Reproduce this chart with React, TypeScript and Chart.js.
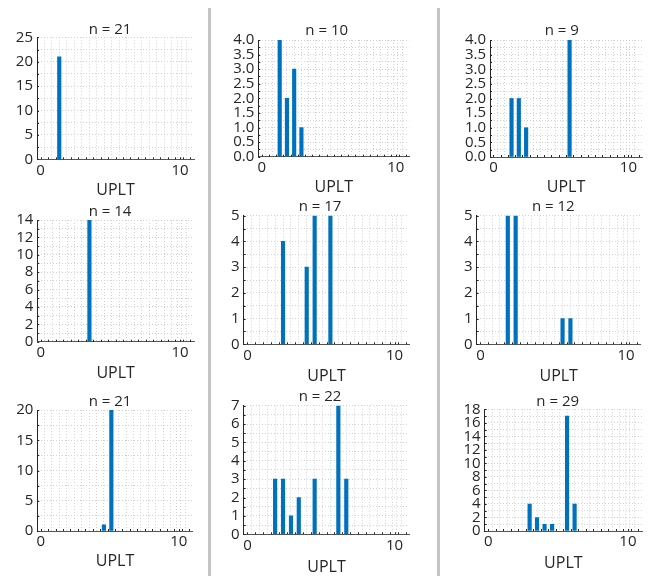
import { useEffect, useRef } from 'react';
import { Chart, registerables } from 'chart.js';

Chart.register(...registerables);

// ---------- data ----------
const panelTitles = ['n = 21', 'n = 10', 'n = 9', 'n = 14', 'n = 17', 'n = 12', 'n = 21', 'n = 22', 'n = 29'];
const xAxisLabel = 'UPLT';

const p1Uplt = [1.34];
const p1Count = [21];
const p2Uplt = [1.34, 1.88, 2.42, 2.96];
const p2Count = [4, 2, 3, 1];
const p3Uplt = [1.34, 1.88, 2.42, 5.64];
const p3Count = [2, 2, 1, 4];
const p4Uplt = [3.49];
const p4Count = [14];
const p5Uplt = [2.42, 4.03, 4.57, 5.64];
const p5Count = [4, 3, 5, 5];
const p6Uplt = [1.88, 2.42, 5.64, 6.18];
const p6Count = [5, 5, 1, 1];
const p7Uplt = [4.57, 5.11];
const p7Count = [1, 20];
const p8Uplt = [1.88, 2.42, 2.96, 3.49, 4.57, 6.18, 6.72];
const p8Count = [3, 3, 1, 2, 3, 7, 3];
const p9Uplt = [2.96, 3.49, 4.03, 4.57, 5.64, 6.18];
const p9Count = [4, 2, 1, 1, 17, 4];

const panelUplt = [p1Uplt, p2Uplt, p3Uplt, p4Uplt, p5Uplt, p6Uplt, p7Uplt, p8Uplt, p9Uplt];
const panelCount = [p1Count, p2Count, p3Count, p4Count, p5Count, p6Count, p7Count, p8Count, p9Count];

const yMaxes = [25, 4, 4, 14, 5, 5, 20, 7, 18];
const yLabelSteps = [5, 0.5, 0.5, 2, 1, 1, 5, 1, 2];
const yMinorSteps = [2.5, 0.25, 0.25, 1, 0.5, 0.5, 2.5, 0.5, 1];
const yDecimals = [0, 1, 1, 0, 0, 0, 0, 0, 0];

const xTickLabels = [0, 10];
const xMax = 10.75;
const binWidth = 0.5375;

// ---------- layout (pixel frames of each plot area) ----------
const frames = [
  { L: 37, R: 194, T: 37.3, B: 159.3, tx: 110, ty: 29.3, uy: 190.7 },
  { L: 258.3, R: 409.3, T: 40, B: 156.7, tx: 326.7, ty: 30.7, uy: 187.3 },
  { L: 490, R: 642, T: 40, B: 157, tx: 561.7, ty: 31, uy: 187.3 },
  { L: 37.3, R: 194, T: 220, B: 341.7, tx: 110, ty: 211.7, uy: 373.3 },
  { L: 243.7, R: 409.3, T: 215.7, B: 344.3, tx: 320, ty: 206.7, uy: 376.7 },
  { L: 476.7, R: 640.7, T: 215.7, B: 344.3, tx: 553.3, ty: 206.7, uy: 376.7 },
  { L: 37.3, R: 192.7, T: 410, B: 531, tx: 110, ty: 401.7, uy: 561.7 },
  { L: 243.7, R: 409.3, T: 405.7, B: 534.3, tx: 320, ty: 396.7, uy: 567.3 },
  { L: 484.7, R: 642, T: 409.3, B: 531, tx: 557.7, ty: 401.7, uy: 563.3 },
];

const FONT = "'Open Sans', 'Noto Sans', sans-serif";
const TEXT = '#262626';
const BAR = '#0072BD';
const GRID = '#d2d2d2';

const tickMarks = {
  id: 'tickMarks',
  afterDraw(chart: any) {
    const { ctx, chartArea, scales } = chart;
    ctx.save();
    ctx.strokeStyle = TEXT;
    ctx.lineWidth = 1;
    ctx.beginPath();
    for (const t of scales.x.ticks) {
      const px = Math.round(scales.x.getPixelForValue(t.value)) + 0.5;
      ctx.moveTo(px, chartArea.bottom);
      ctx.lineTo(px, chartArea.bottom - 2);
    }
    for (const t of scales.y.ticks) {
      const py = Math.round(scales.y.getPixelForValue(t.value)) + 0.5;
      ctx.moveTo(chartArea.left, py);
      ctx.lineTo(chartArea.left + 2, py);
    }
    ctx.stroke();
    ctx.restore();
  },
};

const panelTitle = {
  id: 'panelTitle',
  afterDraw(chart: any, _args: any, opts: any) {
    const { ctx } = chart;
    ctx.save();
    ctx.font = `normal 15px ${FONT}`;
    ctx.fillStyle = TEXT;
    ctx.textAlign = 'center';
    ctx.textBaseline = 'middle';
    ctx.fillText(opts.text, opts.x, opts.y);
    ctx.restore();
  },
};

function Panel({ idx }: { idx: number }) {
  const ref = useRef<HTMLCanvasElement>(null);
  const f = frames[idx];
  const cl = Math.max(0, Math.floor(f.L - 42));
  const ct = Math.floor(f.T - 22);
  const xH = f.uy - f.B + 9.6;
  const cw = Math.ceil(f.R - cl + 6);
  const ch = Math.ceil(f.B - ct + xH + 3);
  const yW = f.L - cl;
  const padT = f.T - ct;
  const padR = cw - (f.R - cl);
  const padB = ch - (f.B - ct) - xH;

  useEffect(() => {
    const xs = panelUplt[idx];
    const ys = panelCount[idx];
    const yMax = yMaxes[idx];
    const yLab = yLabelSteps[idx];
    const yMin = yMinorSteps[idx];
    const dec = yDecimals[idx];

    const chart = new Chart(ref.current as HTMLCanvasElement, {
      type: 'bar',
      data: {
        datasets: [
          {
            data: xs.map((x, i) => ({ x, y: ys[i] })),
            backgroundColor: BAR,
            borderWidth: 0,
            barThickness: 3.5,
          } as any,
        ],
      },
      options: {
        animation: false,
        responsive: false,
        events: [],
        layout: { padding: { left: 0, right: padR, top: padT, bottom: padB } },
        plugins: {
          legend: { display: false },
          tooltip: { enabled: false },
          title: { display: false },
          panelTitle: { text: panelTitles[idx], x: f.tx - cl, y: f.ty - ct },
        },
        scales: {
          x: {
            type: 'linear',
            min: 0,
            max: xMax,
            afterBuildTicks: (scale: any) => {
              const t: any[] = [];
              for (let k = 0; k <= 20; k++) {
                const v = +(k * binWidth).toFixed(4);
                if (v > xTickLabels[1] && t.length && t[t.length - 1].value < xTickLabels[1]) t.push({ value: xTickLabels[1] });
                t.push({ value: v });
              }
              scale.ticks = t;
            },
            afterFit: (scale: any) => {
              scale.height = xH;
            },
            ticks: {
              autoSkip: false,
              maxRotation: 0,
              padding: 2,
              color: TEXT,
              font: { family: FONT, size: 15 },
              callback: (v: any) => (xTickLabels.includes(v) ? String(v) : ''),
            },
            grid: { color: GRID, lineWidth: 1, drawTicks: false },
            border: { display: true, color: '#555555', width: 1, dash: [1, 2] },
            title: {
              display: true,
              text: xAxisLabel,
              color: TEXT,
              font: { family: FONT, size: 16 },
              padding: { top: 0, bottom: 0 },
            },
          },
          y: {
            type: 'linear',
            min: 0,
            max: yMax,
            afterBuildTicks: (scale: any) => {
              const t: any[] = [];
              const n = Math.round(yMax / yMin);
              for (let k = 0; k <= n; k++) t.push({ value: +(k * yMin).toFixed(4) });
              scale.ticks = t;
            },
            afterFit: (scale: any) => {
              scale.width = yW;
            },
            ticks: {
              autoSkip: false,
              padding: 4,
              color: TEXT,
              font: { family: FONT, size: 15 },
              callback: (v: any) => {
                const r = v / yLab;
                return Math.abs(r - Math.round(r)) < 1e-6 ? Number(v).toFixed(dec) : '';
              },
            },
            grid: { color: GRID, lineWidth: 1, drawTicks: false },
            border: { display: true, color: TEXT, width: 1, dash: [1, 2] },
          },
        },
      } as any,
      plugins: [tickMarks, panelTitle],
    });
    return () => chart.destroy();
  }, []);

  return (
    <canvas
      ref={ref}
      width={cw}
      height={ch}
      style={{ position: 'absolute', left: cl, top: ct, width: cw, height: ch }}
    />
  );
}

export default function App() {
  return (
    <div style={{ position: 'absolute', left: 0, top: 0, width: 649, height: 576, background: '#ffffff', overflow: 'hidden' }}>
      <div style={{ position: 'absolute', left: 208, top: 8, width: 3, height: 568, background: '#c4c4c4' }} />
      <div style={{ position: 'absolute', left: 437, top: 8, width: 3, height: 568, background: '#c4c4c4' }} />
      {frames.map((_, i) => (
        <Panel key={i} idx={i} />
      ))}
    </div>
  );
}
